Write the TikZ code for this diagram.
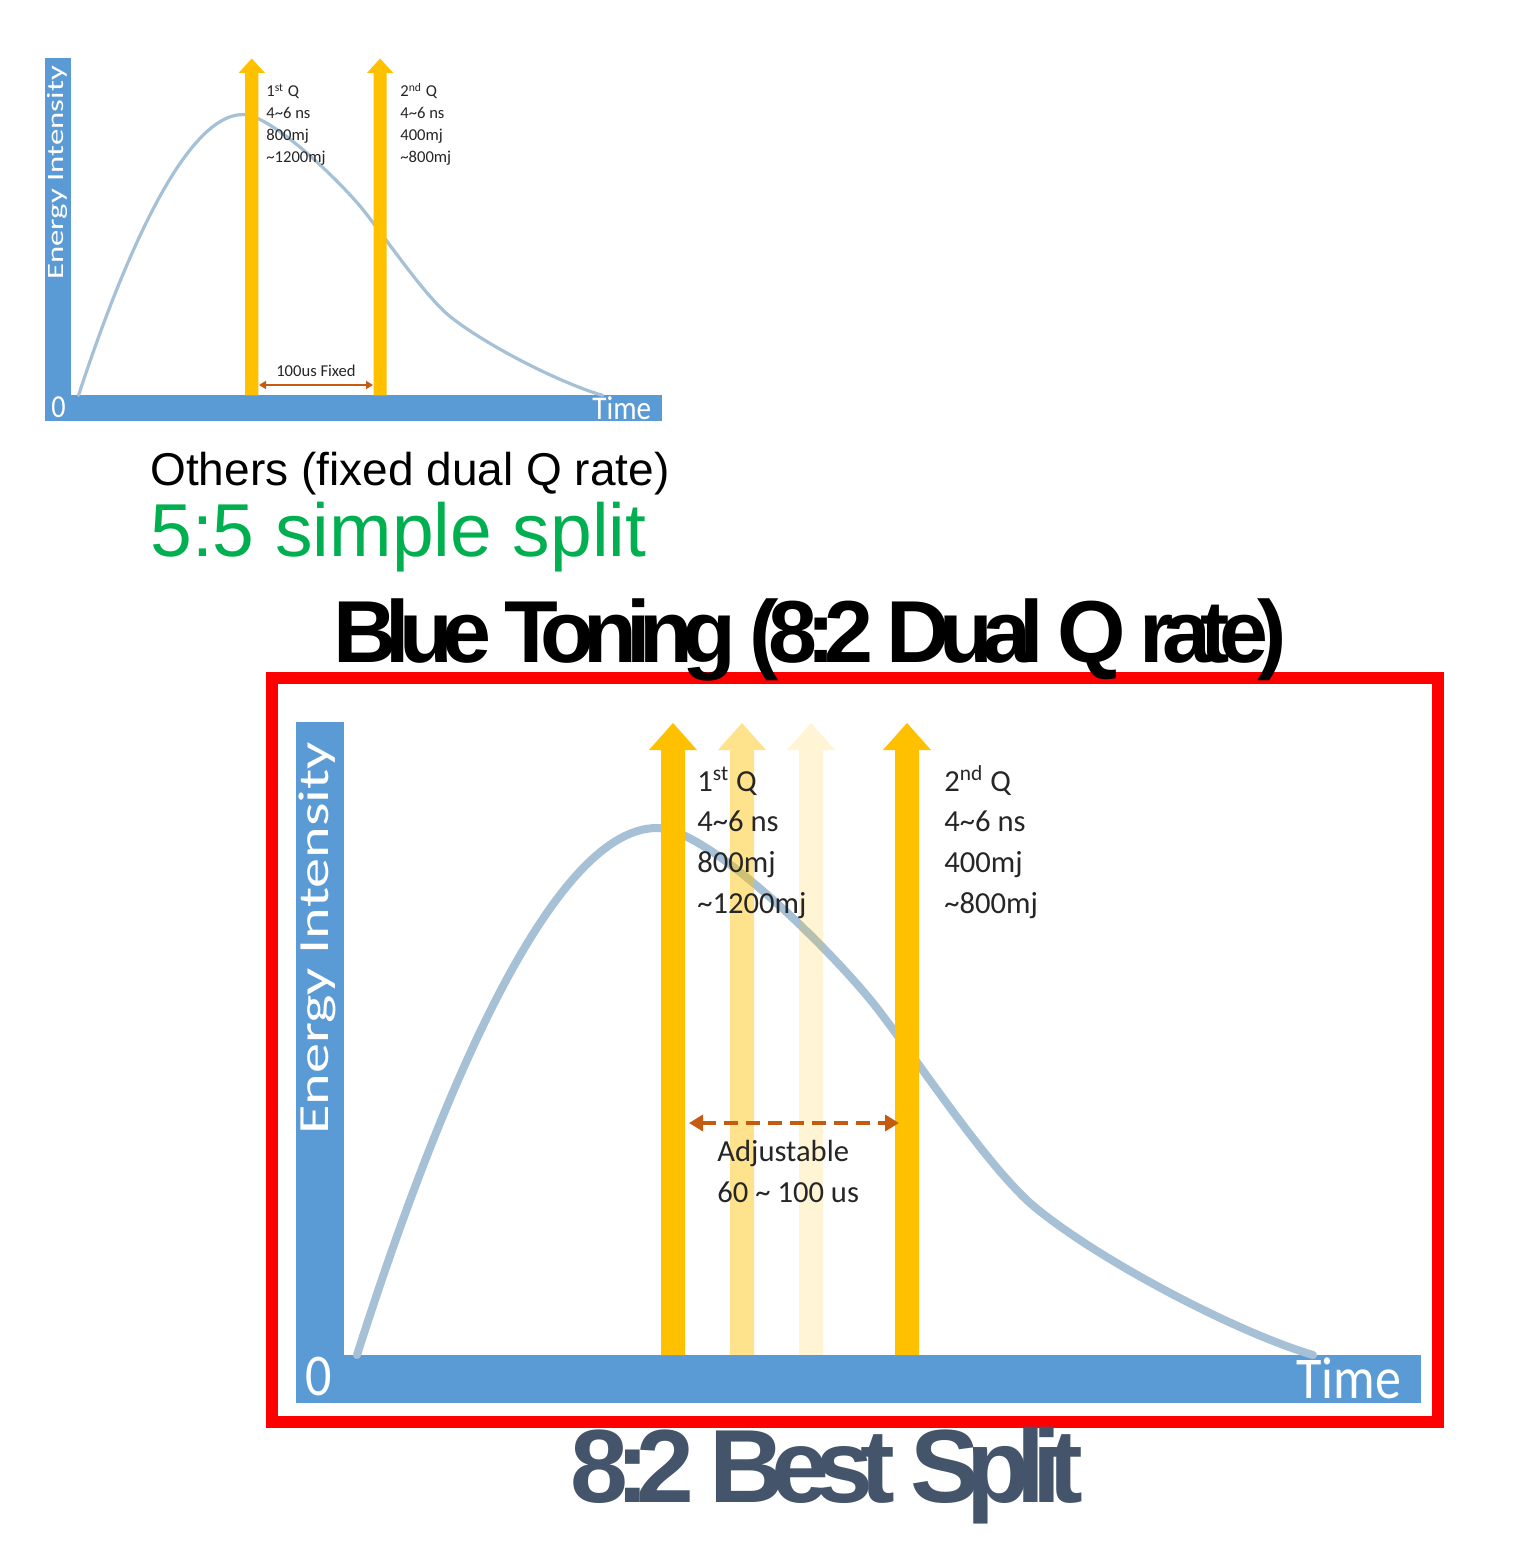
\documentclass[tikz,border=0pt]{standalone}
\usepackage{fontspec}
\setmainfont{Liberation Sans}
\newfontfamily\notefont{Carlito}
\newfontfamily\labelfont{Carlito}[FakeStretch=1.4]
\newfontfamily\timefont{Carlito}[FakeStretch=0.88]
\newfontfamily\tightfont{Liberation Sans}[LetterSpace=-12.5]
\newfontfamily\tighterfont{Liberation Sans}[LetterSpace=-12.8]
\usetikzlibrary{arrows.meta}
\definecolor{axisblue}{HTML}{5B9BD5}
\definecolor{pulseblue}{HTML}{A6C0D6}
\definecolor{qgold}{HTML}{FFC000}
\definecolor{gaporange}{HTML}{C55A11}
\definecolor{splitgreen}{HTML}{00B050}
\definecolor{slate}{HTML}{44546A}
\definecolor{notegray}{HTML}{262626}

\begin{document}
\begin{tikzpicture}[x = 0.5pt, y = -0.5pt]
\tikzstyle{AxisBar}=[fill = axisblue]
\tikzstyle{Pulse}=[draw = pulseblue, line cap = round]
\tikzstyle{QArrow}=[fill = qgold]
\tikzstyle{Note}=[anchor = base west, inner sep = 0pt, text = notegray, align = left]
\tikzstyle{SmallNote}=[Note, font = \notefont\fontsize{8.3}{11}\selectfont]
\tikzstyle{BigNote}=[Note, font = \notefont\fontsize{15.3}{20.3}\selectfont]
\tikzstyle{AxisText}=[inner sep = 0pt, text = white]
\tikzstyle{Caption}=[anchor = base west, inner sep = 0pt]
\useasboundingbox[fill = white] (0,0) rectangle (1524,1552);

% small chart, same geometry as the big one
\begin{scope}[shift = {(-117.3,-326.8)}, xscale = 0.5484, yscale = 0.533]
\fill[AxisBar] (296,722) rectangle (344,1403);
\fill[AxisBar] (296,1355) rectangle (1421,1403);
\draw[Pulse, line width = 1.6pt] (357,1355) .. controls (431,1123) and (547,828) .. (657,828) .. controls (710,828) and (841,960) .. (880,1012) .. controls (927,1074) and (985,1162) .. (1030,1203) .. controls (1090,1255) and (1230,1330) .. (1313,1355);
\fill[QArrow] (661,1355) -- ++(0,-605) -- ++(-12,0) -- ++(24,-27) -- ++(24,27) -- ++(-12,0) -- ++(0,605) -- cycle;
\fill[QArrow] (895,1355) -- ++(0,-605) -- ++(-12,0) -- ++(24,-27) -- ++(24,27) -- ++(-12,0) -- ++(0,605) -- cycle;
\end{scope}
\node[AxisText, rotate = 90, anchor = base west] (ei1) at (63,280) {\labelfont\fontsize{11.7}{12}\selectfont Energy Intensity};
\node[AxisText, anchor = base west] (zero1) at (51,417) {\timefont\fontsize{16}{16}\selectfont 0};
\node[AxisText, anchor = base west] (time1) at (592,419) {\timefont\fontsize{16.6}{17}\selectfont Time};
\node[SmallNote] (q1a) at (266,162.7) {1\textsuperscript{st} Q\\4\textasciitilde6 ns\\800mj\\\textasciitilde1200mj};
\node[SmallNote] (q2a) at (400,162.7) {2\textsuperscript{nd} Q\\4\textasciitilde6 ns\\400mj\\\textasciitilde800mj};
\node[inner sep = 0pt, anchor = base, text = notegray] (fixed) at (316,376) {\notefont\fontsize{8.3}{10}\selectfont 100us Fixed};
\coordinate (fixL) at (259,385);
\coordinate (fixR) at (373,385);
\draw[gaporange, line width = 1pt, {Triangle[length=3.5pt, width=4pt]}-{Triangle[length=3.5pt, width=4pt]}] (fixL) -- (fixR);

\node[Caption] (others) at (150,485) {\fontsize{23}{28}\selectfont Others (fixed dual Q rate)};
\node[Caption, text = splitgreen] (simple) at (150,556) {\fontsize{37.5}{44}\selectfont 5:5 simple split};

% big chart
\draw[red, line width = 6pt] (272,678) rectangle (1437.5,1421.5);
\fill[AxisBar] (296,722) rectangle (344,1403);
\fill[AxisBar] (296,1355) rectangle (1421,1403);
\draw[Pulse, line width = 4pt] (357,1355) .. controls (431,1123) and (547,828) .. (657,828) .. controls (710,828) and (841,960) .. (880,1012) .. controls (927,1074) and (985,1162) .. (1030,1203) .. controls (1090,1255) and (1230,1330) .. (1313,1355);
\fill[QArrow] (661,1355) -- ++(0,-605) -- ++(-12,0) -- ++(24,-27) -- ++(24,27) -- ++(-12,0) -- ++(0,605) -- cycle;
\fill[QArrow, fill opacity = 0.45] (730,1355) -- ++(0,-605) -- ++(-12,0) -- ++(24,-27) -- ++(24,27) -- ++(-12,0) -- ++(0,605) -- cycle;
\fill[QArrow, fill opacity = 0.17] (799,1355) -- ++(0,-605) -- ++(-12,0) -- ++(24,-27) -- ++(24,27) -- ++(-12,0) -- ++(0,605) -- cycle;
\fill[QArrow] (895,1355) -- ++(0,-605) -- ++(-12,0) -- ++(24,-27) -- ++(24,27) -- ++(-12,0) -- ++(0,605) -- cycle;
\node[AxisText, rotate = 90, anchor = base west] (ei2) at (328,1135) {\labelfont\fontsize{21.5}{22}\selectfont Energy Intensity};
\node[AxisText, anchor = base west] (zero2) at (305,1395) {\timefont\fontsize{29.6}{30}\selectfont 0};
\node[AxisText, anchor = base west] (time2) at (1296,1398) {\timefont\fontsize{29.6}{30}\selectfont Time};
\node[BigNote] (q1b) at (697,913) {1\textsuperscript{st} Q\\4\textasciitilde6 ns\\800mj\\\textasciitilde1200mj};
\node[BigNote] (q2b) at (944,913) {2\textsuperscript{nd} Q\\4\textasciitilde6 ns\\400mj\\\textasciitilde800mj};
\node[BigNote] (adjust) at (717,1202) {Adjustable\\60 \textasciitilde\ 100 us};
\coordinate (adjL) at (689,1123);
\coordinate (adjR) at (899,1123);
\draw[gaporange, line width = 2pt, dash pattern = on 7pt off 4pt, {Triangle[length=7pt, width=8pt]}-{Triangle[length=7pt, width=8pt]}] (adjL) -- (adjR);

\node[Caption] (blue) at (333,662) {\tightfont\bfseries\fontsize{44}{50}\selectfont Blue Toning (8:2 Dual Q rate)};
\node[Caption, text = slate] (best) at (570,1502) {\tighterfont\bfseries\fontsize{52}{60}\selectfont 8:2 Best Split};
\end{tikzpicture}
\end{document}
